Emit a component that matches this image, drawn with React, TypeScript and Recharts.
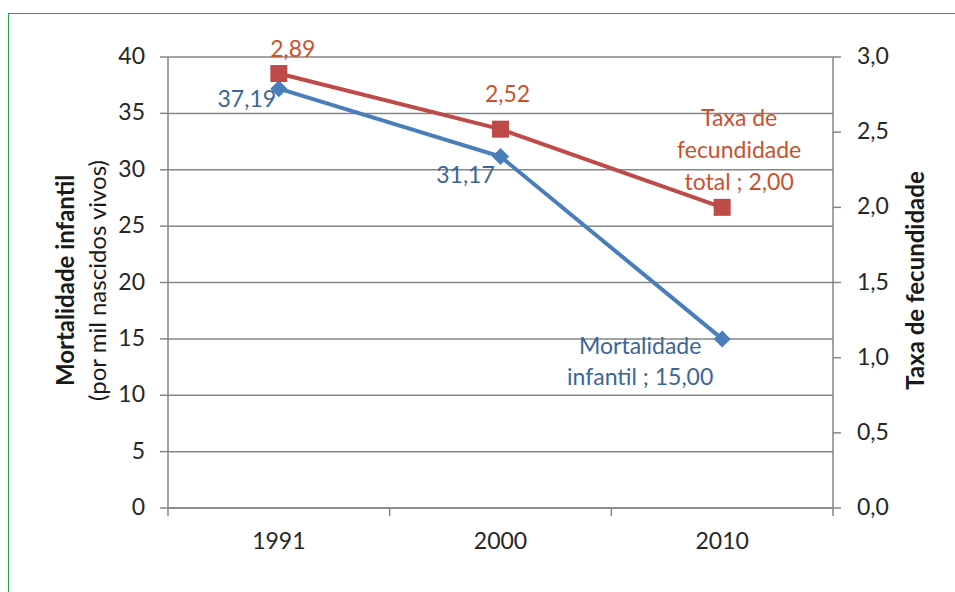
import React from 'react';
import { LineChart, Line, XAxis, YAxis, CartesianGrid, LabelList } from 'recharts';

// Anos censitários e indicadores
const anos = ['1991', '2000', '2010'];
const mortalidadeInfantil = [37.19, 31.17, 15.0];
const taxaFecundidade = [2.89, 2.52, 2.0];
const ticksMortalidade = [0, 5, 10, 15, 20, 25, 30, 35, 40];
const ticksFecundidade = [0, 0.5, 1, 1.5, 2, 2.5, 3];

const data = anos.map((ano, i) => ({
  ano,
  mort: mortalidadeInfantil[i],
  fec: taxaFecundidade[i],
}));

const FONT = 'Lato, "Open Sans", sans-serif';
const GRID = '#868686';
const BLUE = '#4A7EBB';
const RED = '#BE4B48';
const BLUE_TEXT = '#3C6598';
const RED_TEXT = '#C9512C';
const AXIS_TEXT = '#262626';
const FS = 23;

const fmt = (v: number, d: number) => v.toFixed(d).replace('.', ',');

const LeftTick = (p: any) => (
  <text x={p.x} y={p.y} dy={-2} textAnchor="end" dominantBaseline="central"
    fontFamily={FONT} fontSize={FS} fill={AXIS_TEXT}>
    {p.payload.value}
  </text>
);

const RightTick = (p: any) => (
  <text x={p.x} y={p.y} dy={-2} textAnchor="start" dominantBaseline="central"
    fontFamily={FONT} fontSize={FS} fill={AXIS_TEXT}>
    {fmt(Number(p.payload.value), 1)}
  </text>
);

// Category labels centred in each band, tick marks on the band edges
const XTick = (p: any) => {
  const { x, y, payload, index, width, visibleTicksCount } = p;
  const count = visibleTicksCount || anos.length;
  const half = Number.isFinite(width) ? width / count / 2 : payload.offset;
  const last = index === count - 1;
  return (
    <g>
      <line x1={x - half} x2={x - half} y1={y} y2={y + 8} stroke={GRID} strokeWidth={1.5} />
      {last && <line x1={x + half} x2={x + half} y1={y} y2={y + 8} stroke={GRID} strokeWidth={1.5} />}
      <text x={x} y={y + 32} textAnchor="middle" dominantBaseline="central"
        fontFamily={FONT} fontSize={FS} fill={AXIS_TEXT}>
        {payload.value}
      </text>
    </g>
  );
};

const LeftTitle = (p: any) => {
  const vb = p.viewBox || {};
  const cy = vb.y + vb.height / 2 - 2;
  const x1 = vb.x - 44;
  const x2 = vb.x - 12;
  return (
    <g fontFamily={FONT} fontSize={24} fill="#1a1a1a">
      <text x={x1} y={cy} transform={`rotate(-90, ${x1}, ${cy})`} textAnchor="middle"
        dominantBaseline="central" fontWeight="bold">
        Mortalidade infantil
      </text>
      <text x={x2} y={cy} transform={`rotate(-90, ${x2}, ${cy})`} textAnchor="middle"
        dominantBaseline="central">
        (por mil nascidos vivos)
      </text>
    </g>
  );
};

const RightTitle = (p: any) => {
  const vb = p.viewBox || {};
  const cy = vb.y + vb.height / 2 - 2;
  const x = vb.x + 81;
  return (
    <text x={x} y={cy} transform={`rotate(-90, ${x}, ${cy})`} textAnchor="middle"
      dominantBaseline="central" fontFamily={FONT} fontSize={24} fontWeight="bold" fill="#1a1a1a">
      Taxa de fecundidade
    </text>
  );
};

const Diamond = (p: any) => {
  const { cx, cy, index } = p;
  const r = 8.5;
  return (
    <polygon key={`m-${index}`} fill={BLUE}
      points={`${cx},${cy - r} ${cx + r},${cy} ${cx},${cy + r} ${cx - r},${cy}`} />
  );
};

const Square = (p: any) => {
  const { cx, cy, index } = p;
  const s = 17;
  return <rect key={`f-${index}`} x={cx - s / 2} y={cy - s / 2} width={s} height={s} fill={RED} />;
};

const mortOffsets = [
  { dx: -32, dy: 9 },
  { dx: -35, dy: 17 },
  { dx: -82, dy: 6 },
];

const MortLabel = (p: any) => {
  const { x, y, value, index } = p;
  const v = fmt(Number(value), 2);
  const lines = index === mortalidadeInfantil.length - 1 ? ['Mortalidade', `infantil ; ${v}`] : [v];
  const o = mortOffsets[index];
  return (
    <g>
      {lines.map((t, i) => (
        <text key={i} x={x + o.dx} y={y + o.dy + i * 31} textAnchor="middle" dominantBaseline="central"
          fontFamily={FONT} fontSize={FS} fill={BLUE_TEXT}>
          {t}
        </text>
      ))}
    </g>
  );
};

const fecOffsets = [
  { dx: 14, dy: -26 },
  { dx: 7, dy: -36 },
  { dx: 17, dy: -90 },
];

const FecLabel = (p: any) => {
  const { x, y, value, index } = p;
  const v = fmt(Number(value), 2);
  const lines = index === taxaFecundidade.length - 1 ? ['Taxa de', 'fecundidade', `total ; ${v}`] : [v];
  const o = fecOffsets[index];
  return (
    <g>
      {lines.map((t, i) => (
        <text key={i} x={x + o.dx} y={y + o.dy + i * 32} textAnchor="middle" dominantBaseline="central"
          fontFamily={FONT} fontSize={FS} fill={RED_TEXT}>
          {t}
        </text>
      ))}
    </g>
  );
};

export default function App() {
  return (
    <div style={{ position: 'fixed', left: 0, top: 0, width: 955, height: 592, background: '#fff', overflow: 'hidden' }}>
      <div style={{
        position: 'absolute', left: 8, top: 13, width: 1000, height: 700,
        borderLeft: '1.5px solid #1FA04B', borderTop: '1.5px solid #1FA04B',
      }} />
      <div style={{ position: 'absolute', left: 0, top: 0 }}>
        <LineChart width={955} height={592} data={data}
          margin={{ top: 57, right: 62, left: 108, bottom: 44 }}>
          <CartesianGrid yAxisId="l" vertical={false} stroke={GRID} strokeWidth={1.5} />
          <XAxis dataKey="ano" xAxisId={0} scale="band" interval={0} height={40} tickSize={0} tickMargin={0}
            tickLine={false} axisLine={{ stroke: GRID, strokeWidth: 1.5 }} tick={<XTick />} />
          <YAxis yAxisId="l" orientation="left" width={60} domain={[0, 40]} ticks={ticksMortalidade}
            interval={0} tickSize={8} tickMargin={15}
            axisLine={{ stroke: GRID, strokeWidth: 1.5 }} tickLine={{ stroke: GRID, strokeWidth: 1.5 }}
            tick={<LeftTick />} label={(p: any) => <LeftTitle {...p} />} />
          <YAxis yAxisId="r" orientation="right" width={60} domain={[0, 3]} ticks={ticksFecundidade}
            interval={0} tickSize={8} tickMargin={16}
            axisLine={{ stroke: GRID, strokeWidth: 1.5 }} tickLine={{ stroke: GRID, strokeWidth: 1.5 }}
            tick={<RightTick />} label={(p: any) => <RightTitle {...p} />} />
          <Line yAxisId="l" dataKey="mort" name="Mortalidade infantil" stroke={BLUE} strokeWidth={4}
            dot={Diamond} activeDot={false} isAnimationActive={false}>
            <LabelList dataKey="mort" content={MortLabel} />
          </Line>
          <Line yAxisId="r" dataKey="fec" name="Taxa de fecundidade total" stroke={RED} strokeWidth={4}
            dot={Square} activeDot={false} isAnimationActive={false}>
            <LabelList dataKey="fec" content={FecLabel} />
          </Line>
        </LineChart>
      </div>
    </div>
  );
}
